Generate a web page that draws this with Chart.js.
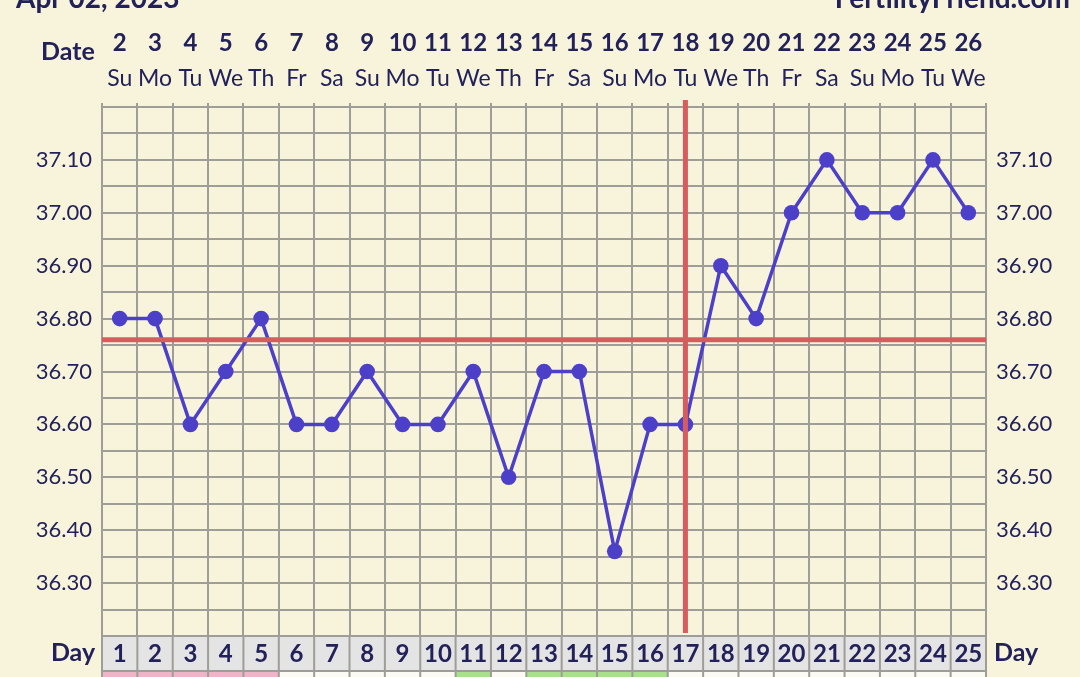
<!DOCTYPE html>
<html><head><meta charset="utf-8">
<script src="https://cdn.jsdelivr.net/npm/chart.js@4"></script>
<style>html,body{margin:0;padding:0;background:#f8f4dc;} #wrap{width:1080px;height:677px;position:relative;}</style>
</head><body><div id="wrap"><canvas id="c"></canvas></div>
<script>
const cycleDays = [1,2,3,4,5,6,7,8,9,10,11,12,13,14,15,16,17,18,19,20,21,22,23,24,25];
const dates = ['2','3','4','5','6','7','8','9','10','11','12','13','14','15','16','17','18','19','20','21','22','23','24','25','26'];
const weekdays = ['Su','Mo','Tu','We','Th','Fr','Sa','Su','Mo','Tu','We','Th','Fr','Sa','Su','Mo','Tu','We','Th','Fr','Sa','Su','Mo','Tu','We'];
const temps = [36.80,36.80,36.60,36.70,36.80,36.60,36.60,36.70,36.60,36.60,36.70,36.50,36.70,36.70,36.36,36.60,36.60,36.90,36.80,37.00,37.10,37.00,37.00,37.10,37.00];
const coverline = 36.76;
const ovulationDay = 17;
const fluidRow = ['menses','menses','menses','menses','menses','','','','','','fertile','','fertile','fertile','fertile','fertile','','','','','','','','',''];
const chartTitle = 'Apr 02, 2023';
const siteName = 'FertilityFriend.com';

const NAVY = '#23215a', GRID = '#9e9d98', CREAM = '#f8f4dc', LINE = '#4c40c8', RED = '#d85c5e';
const FONT = 'Lato, "Open Sans", sans-serif';
const rowColors = {menses:'#f0b4c8', fertile:'#a8e08c', '':'#fbfaf3'};

const decor = {
  id:'decor',
  beforeDraw(chart){
    const {ctx, chartArea:a, scales} = chart;
    ctx.save();
    ctx.fillStyle = CREAM; ctx.fillRect(0,0,chart.width,chart.height);
    const xs = scales.x;
    const half = (xs.getPixelForValue(1)-xs.getPixelForValue(0))/2;
    ctx.fillStyle = '#e4e4e4';
    ctx.fillRect(a.left, a.bottom, a.right-a.left, 34);
    cycleDays.forEach((d,i)=>{
      const cx = xs.getPixelForValue(i);
      ctx.fillStyle = rowColors[fluidRow[i]];
      ctx.fillRect(cx-half, a.bottom+36, half*2, 20);
    });
    ctx.strokeStyle = GRID; ctx.lineWidth = 2;
    ctx.beginPath();
    for(let i=0;i<=cycleDays.length;i++){
      const px = xs.getPixelForValue(i) - half;
      ctx.moveTo(px, a.bottom); ctx.lineTo(px, chart.height);
    }
    ctx.moveTo(a.left, a.bottom+35); ctx.lineTo(a.right, a.bottom+35);
    ctx.stroke();
    ctx.restore();
  },
  afterDatasetsDraw(chart){
    const {ctx, chartArea:a, scales} = chart;
    ctx.save();
    ctx.strokeStyle = RED; ctx.lineWidth = 5;
    const cy = scales.y.getPixelForValue(coverline);
    ctx.beginPath(); ctx.moveTo(a.left, cy); ctx.lineTo(a.right, cy); ctx.stroke();
    const ox = scales.x.getPixelForValue(cycleDays.indexOf(ovulationDay));
    ctx.beginPath(); ctx.moveTo(ox, a.top-7); ctx.lineTo(ox, a.bottom-3); ctx.stroke();
    ctx.restore();
  },
  afterDraw(chart){
    const {ctx, chartArea:a} = chart;
    ctx.save();
    ctx.fillStyle = NAVY;
    ctx.font = 'bold 25px ' + FONT;
    ctx.textBaseline = 'middle';
    ctx.textAlign = 'center';
    ctx.fillText('Date', 68, 52);
    ctx.fillText('Day', 73, a.bottom+17);
    ctx.textAlign = 'left';
    ctx.fillText('Day', 994, a.bottom+17);
    ctx.font = 'bold 28px ' + FONT;
    ctx.textBaseline = 'alphabetic';
    ctx.fillText(chartTitle, 16, 8);
    ctx.textAlign = 'right';
    ctx.fillText(siteName, 1070, 8);
    ctx.restore();
  }
};

const yTickCb = v => {
  const h = Math.round(v*100);
  return (h % 10 === 0 && h >= 3630 && h <= 3710) ? v.toFixed(2) : '';
};

new Chart(document.getElementById('c'), {
  type:'line',
  data:{
    labels: cycleDays.map(String),
    datasets:[{
      data: temps,
      borderColor: LINE, backgroundColor: LINE,
      borderWidth: 3.5, pointRadius: 7.8, pointHoverRadius: 7.8,
      pointBackgroundColor: LINE, pointBorderWidth: 0, tension: 0
    }]
  },
  options:{
    responsive:true, maintainAspectRatio:false, animation:false,
    layout:{padding:0},
    plugins:{legend:{display:false}, tooltip:{enabled:false}},
    scales:{
      x:{type:'category', position:'bottom', offset:true,
        grid:{offset:true, color:GRID, lineWidth:2, drawTicks:false},
        border:{display:true, color:GRID, width:2},
        ticks:{color:NAVY, font:{family:FONT, size:24, weight:'bold'}, padding:4, maxRotation:0, autoSkip:false},
        afterFit(s){ s.height = 41; }
      },
      xd:{type:'category', labels:dates, position:'top', offset:true, weight:2,
        grid:{display:false}, border:{display:false},
        ticks:{color:NAVY, font:{family:FONT, size:24, weight:'bold'}, padding:-6, maxRotation:0, autoSkip:false},
        afterFit(s){ s.height = 60; }
      },
      xw:{type:'category', labels:weekdays, position:'top', offset:true, weight:1,
        grid:{display:true, offset:true, drawOnChartArea:false, tickLength:4, color:GRID, lineWidth:2}, border:{display:false},
        ticks:{color:NAVY, font:{family:FONT, size:23}, padding:11, maxRotation:0, autoSkip:false},
        afterFit(s){ s.height = 47; }
      },
      y:{position:'left', min:36.2, max:37.2,
        grid:{color:GRID, lineWidth:2, drawTicks:false},
        border:{color:GRID, width:2},
        ticks:{stepSize:0.05, callback:yTickCb, color:NAVY, font:{family:FONT, size:22}, padding:10, autoSkip:false},
        afterFit(s){ s.width = 102; }
      },
      y2:{position:'right', min:36.2, max:37.2, display:true,
        grid:{drawOnChartArea:false, drawTicks:false},
        border:{color:GRID, width:2},
        ticks:{stepSize:0.05, callback:yTickCb, color:NAVY, font:{family:FONT, size:22}, padding:10, autoSkip:false},
        afterFit(s){ s.width = 94; }
      }
    }
  },
  plugins:[decor]
});
</script>
</body></html>
